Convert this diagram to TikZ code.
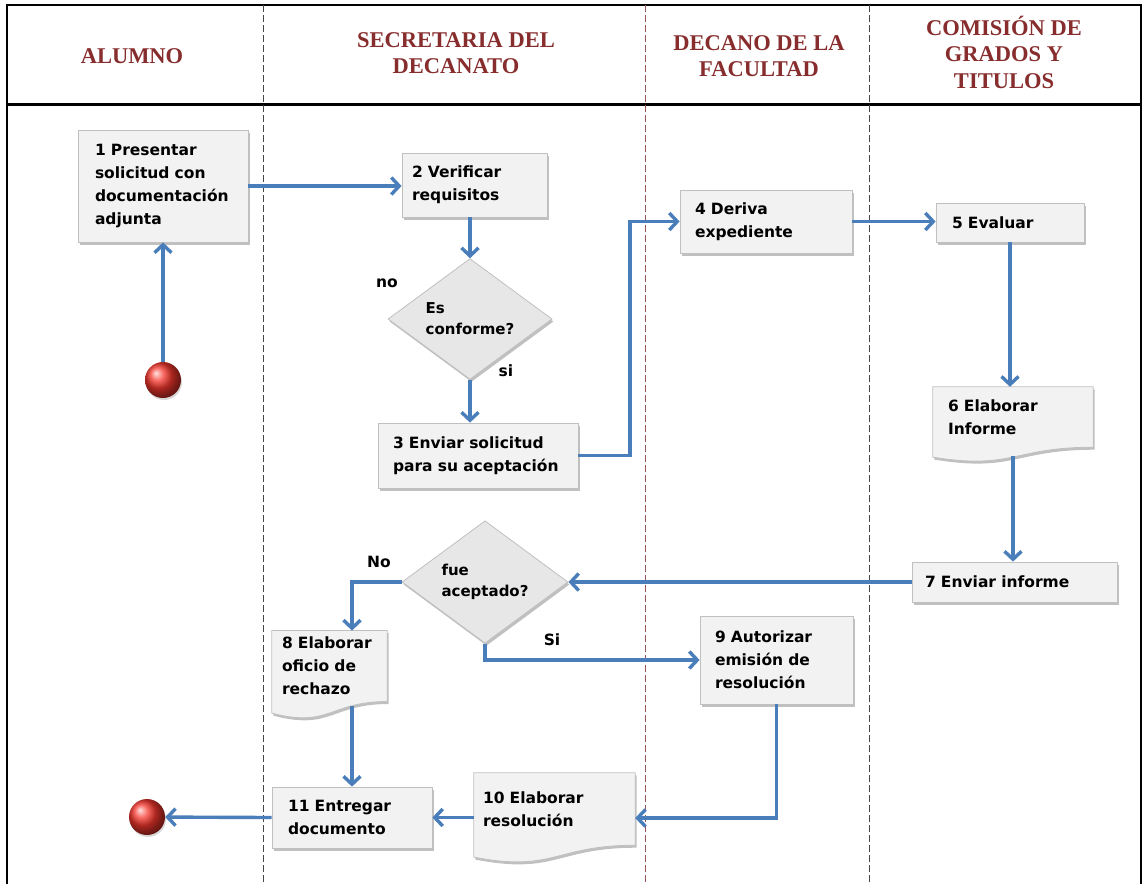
\documentclass[tikz,border=0pt]{standalone}
\usepackage{fontspec}
\setmainfont{DejaVu Sans}
\newfontfamily\hdrfont{Liberation Serif}
\usetikzlibrary{shapes.geometric,arrows.meta,shadows,calc,backgrounds}

\definecolor{flowblue}{RGB}{74,126,187}
\definecolor{boxfill}{RGB}{242,242,242}
\definecolor{decfill}{RGB}{231,231,231}
\definecolor{boxline}{RGB}{192,192,192}
\definecolor{hdrred}{RGB}{135,45,45}
\definecolor{lanegray}{RGB}{70,70,70}
\definecolor{lanered}{RGB}{150,85,85}

\hyphenpenalty=10000
\exhyphenpenalty=10000

\tikzset{
  softshadow/.style={drop shadow={shadow xshift=1.5pt, shadow yshift=-2.5pt, opacity=0.35, fill=black!70}},
  stepbox/.style={rectangle, fill=boxfill, draw=boxline, line width=0.8pt, softshadow,
    font=\bfseries\fontsize{15.5}{23}\selectfont, align=left, inner xsep=0pt, inner ysep=0pt},
  doctext/.style={rectangle, font=\bfseries\fontsize{15.5}{23}\selectfont, align=left,
    inner xsep=0pt, inner ysep=0pt},
  docshape/.style={fill=boxfill, draw=boxline, line width=0.8pt, softshadow},
  decision/.style={diamond, fill=decfill, draw=boxline, line width=0.8pt, softshadow,
    inner sep=0pt, align=left, font=\bfseries\fontsize{15}{21}\selectfont},
  flow/.style={draw=flowblue, line width=3.4pt, -{Straight Barb[length=8pt,width=17pt]}},
  lbl/.style={font=\bfseries\fontsize{15.5}{18}\selectfont, inner sep=0pt},
  ball/.style={circle, minimum size=36pt, inner sep=0pt, shading=ball,
    ball color={rgb,255:red,245;green,55;blue,45},
    drop shadow={shadow xshift=1pt, shadow yshift=-2pt, opacity=0.3}},
  lanehead/.style={font=\hdrfont\bfseries\fontsize{22.5}{26.5}\selectfont,
    text=hdrred, align=center, inner sep=0pt},
  frame/.style={draw=black, line width=2pt},
  headrule/.style={draw=black, line width=3pt},
  lane/.style={draw=lanegray, line width=0.8pt, dash pattern=on 7pt off 3pt}
}

% wavy-bottom document outline behind a text node: node name, full height
\newcommand\flowdoc[2]{%
  \path[docshape] (#1.north west) -- (#1.north east) -- (#1.south east)
    .. controls (#1.south) and ($(#1.south)+(0,{0.305*#2})$) ..
    ($(#1.south west)+(0,{0.132*#2})$) -- cycle;}

\begin{document}
\begin{tikzpicture}[x=1pt,y=-1pt]
\useasboundingbox (0,0) rectangle (1145,884);

% swimlane frame
\draw[frame] (7,884) -- (7,5) -- (1141,5) -- (1141,884);
\draw[headrule] (7,104) -- (1141,104);
\draw[lane] (263,5) -- (263,884);
\draw[lane, draw=lanered] (645,5) -- (645,884);
\draw[lane] (869,5) -- (869,884);

% lane titles
\node[lanehead] (hA) at (132,56) {ALUMNO};
\node[lanehead] (hS) at (456,53) {SECRETARIA DEL\\DECANATO};
\node[lanehead] (hD) at (759,56) {DECANO DE LA\\FACULTAD};
\node[lanehead] (hC) at (1004,52) {COMISIÓN DE\\GRADOS Y\\TITULOS};

% start and end
\node[ball] (s) at (163,380) {};
\node[ball] (e) at (147,817) {};

% process steps
\node[stepbox, minimum width=170pt, minimum height=112pt, text width=136pt] (n1) at (163,186)
  {1 Presentar\\solicitud con\\documentación\\adjunta};
\node[stepbox, minimum width=145pt, minimum height=64pt, text width=125pt] (n2) at (474.5,185)
  {2 Verificar\\requisitos};
\node[decision, minimum width=164pt, minimum height=98pt] (d1) at (470,319)
  {Es\\conforme?};
\node[stepbox, minimum width=200pt, minimum height=65pt, text width=170pt] (n3) at (478,455.5)
  {3 Enviar solicitud\\para su aceptación};
\node[stepbox, minimum width=172pt, minimum height=63pt, text width=142pt] (n4) at (766,221.5)
  {4 Deriva\\expediente};
\node[stepbox, minimum width=148pt, minimum height=39pt, text width=116pt] (n5) at (1010,222.5)
  {5 Evaluar};
\node[doctext, minimum width=160pt, minimum height=60pt, text width=130pt] (n6) at (1013,417)
  {6 Elaborar\\Informe};
\node[stepbox, minimum width=205pt, minimum height=40pt, text width=179pt] (n7) at (1014.5,582)
  {7 Enviar informe};
\node[decision, minimum width=166pt, minimum height=95pt] (d2) at (485,582)
  {fue\\aceptado?};
\node[doctext, minimum width=115pt, minimum height=70.6pt, text width=95pt] (n8) at (329.5,666)
  {8 Elaborar\\oficio de\\rechazo};
\node[stepbox, minimum width=153pt, minimum height=88pt, text width=123pt] (n9) at (776.5,660)
  {9 Autorizar\\emisión de\\resolución};
\node[doctext, minimum width=161pt, minimum height=72pt, text width=143pt] (n10) at (554.5,809)
  {10 Elaborar\\resolución};
\node[stepbox, minimum width=160pt, minimum height=61pt, text width=128pt] (n11) at (352,817.5)
  {11 Entregar\\documento};

% white sheet and document outlines, under everything else
\begin{pgfonlayer}{background}
  \fill[white] (0,0) rectangle (1145,884);
  \flowdoc{n6}{75}
  \flowdoc{n8}{88}
  \flowdoc{n10}{90}
\end{pgfonlayer}

% branch labels
\node[lbl] (lno) at (387,283) {no};
\node[lbl] (lsi) at (506,371) {si};
\node[lbl] (lNo) at (379,562) {No};
\node[lbl] (lSi) at (552,640) {Si};

% connectors
\coordinate (j1) at (630,455);
\draw[flow] (s) -- (n1);
\draw[flow] (n1.east) -- (n1.east -| n2.west);
\draw[flow] (n2.south -| d1.north) -- (d1.north);
\draw[flow] (d1.south) -- (d1.south |- n3.north);
\draw[flow] (n3.east) -| (j1 |- n4.west) -- (n4.west);
\draw[flow] (n4.east) -- (n4.east -| n5.west);
\draw[flow] (n5.south) -- (n5.south |- n6.north);
\draw[flow, shorten <=9pt] (n6.south) -- (n6.south |- n7.north);
\draw[flow] (n7.west) -- (n7.west -| d2.east);
\draw[flow] (d2.west) -| ([xshift=22.5pt]n8.north);
\draw[flow] (d2.south) |- (n9.west);
\draw[flow] (n9.south) |- ([yshift=-9pt]n10.east);
\draw[flow] (n11.east -| n10.west) -- (n11.east);
\draw[flow, shorten <=4pt] (n8.south -| n11.north) -- (n11.north);
\draw[flow] (n11.west) -- (e);
\end{tikzpicture}
\end{document}
